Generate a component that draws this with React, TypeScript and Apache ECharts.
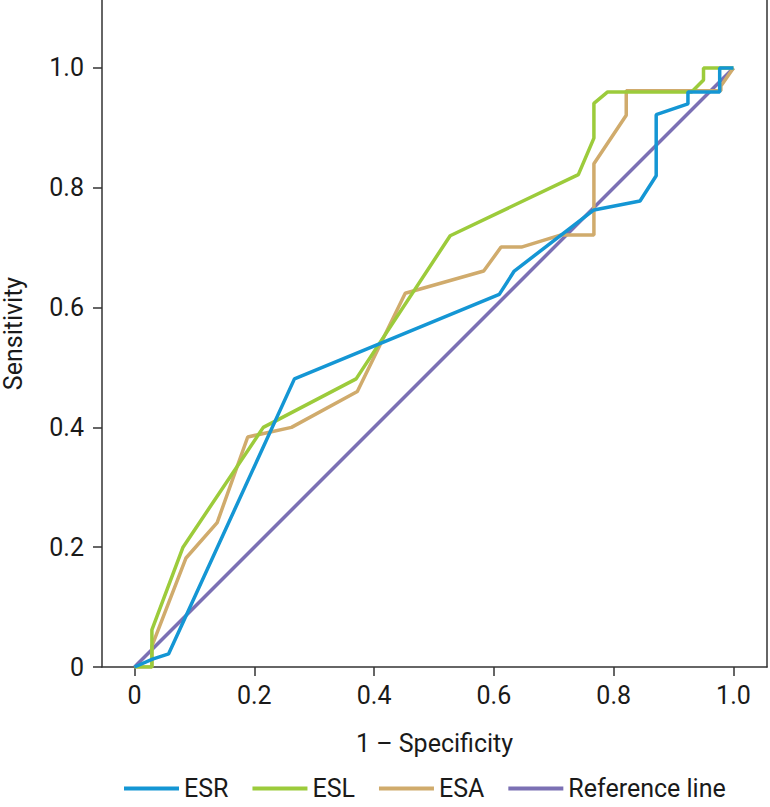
import React, { useEffect, useRef } from "react";
import * as echarts from "echarts";

const tickValues = [0, 0.2, 0.4, 0.6, 0.8, 1.0];
const seriesNames = ["ESR", "ESL", "ESA", "Reference line"];
const seriesColors = ["#1496d4", "#9ccb3b", "#d0ab6c", "#7b70b4"];

const esrX = [0, 0.03, 0.057, 0.267, 0.609, 0.634, 0.767, 0.844, 0.871, 0.871, 0.924, 0.924, 0.977, 0.977, 1];
const esrY = [0, 0.013, 0.022, 0.481, 0.622, 0.661, 0.763, 0.778, 0.82, 0.922, 0.94, 0.96, 0.96, 1, 1];

const eslX = [0, 0.029, 0.029, 0.081, 0.215, 0.37, 0.527, 0.741, 0.767, 0.767, 0.79, 0.93, 0.95, 0.95, 1];
const eslY = [0, 0, 0.062, 0.2, 0.4, 0.481, 0.72, 0.822, 0.883, 0.941, 0.96, 0.96, 0.98, 1, 1];

const esaX = [0, 0.029, 0.029, 0.086, 0.138, 0.189, 0.262, 0.372, 0.452, 0.583, 0.612, 0.646, 0.711, 0.767, 0.767, 0.821, 0.821, 0.979, 0.979, 1];
const esaY = [0, 0, 0.035, 0.182, 0.241, 0.384, 0.4, 0.46, 0.624, 0.661, 0.701, 0.701, 0.721, 0.721, 0.84, 0.921, 0.962, 0.962, 0.97, 1];

const refX = [0, 1];
const refY = [0, 1];

const FONT = "Roboto, sans-serif";
const TEXT = "#1a1a1a";

function zip(xs: number[], ys: number[]) {
  return xs.map((x, i) => [x, ys[i]]);
}

export default function App() {
  const ref = useRef<HTMLDivElement>(null);
  useEffect(() => {
    document.body.style.margin = "0";
    const chart = echarts.init(ref.current!, null, { renderer: "svg" });
    const data = [zip(esrX, esrY), zip(eslX, eslY), zip(esaX, esaY), zip(refX, refY)];
    chart.setOption({
      animation: false,
      grid: { left: 102, right: 3, top: 0, bottom: 140, outerBoundsMode: "none" },
      legend: {
        top: 771,
        left: 119,
        icon: "rect",
        itemWidth: 55,
        itemHeight: 4,
        itemGap: 24,
        data: seriesNames,
        textStyle: { fontFamily: FONT, fontSize: 25, color: TEXT },
      },
      xAxis: {
        type: "value",
        min: -0.0543,
        max: 1.056,
        name: "1 \u2013 Specificity",
        nameLocation: "middle",
        nameGap: 64,
        nameTextStyle: { fontFamily: FONT, fontSize: 25, color: TEXT },
        axisLine: { onZero: false, lineStyle: { color: "#333", width: 1.5 } },
        axisTick: { customValues: tickValues, length: 9, lineStyle: { color: "#333", width: 1.5 } },
        axisLabel: {
          customValues: tickValues,
          margin: 16,
          fontFamily: FONT,
          fontSize: 25,
          color: TEXT,
          formatter: (v: number) => (v === 0 ? "0" : v.toFixed(1)),
        },
        splitLine: { show: false },
      },
      yAxis: [
        {
          type: "value",
          min: 0,
          max: 1.1135,
          name: "Sensitivity",
          nameLocation: "middle",
          nameGap: 76,
          nameTextStyle: { fontFamily: FONT, fontSize: 25, color: TEXT },
          axisLine: { show: true, onZero: false, lineStyle: { color: "#333", width: 1.5 } },
          axisTick: { show: true, customValues: tickValues, length: 9, lineStyle: { color: "#333", width: 1.5 } },
          axisLabel: {
            customValues: tickValues,
            margin: 18,
            fontFamily: FONT,
            fontSize: 25,
            color: TEXT,
            formatter: (v: number) => (v === 0 ? "0" : v.toFixed(1)),
          },
          splitLine: { show: false },
        },
        {
          type: "value",
          min: 0,
          max: 1.1135,
          position: "right",
          axisLine: { show: true, onZero: false, lineStyle: { color: "#333", width: 1.5 } },
          axisTick: { show: false },
          axisLabel: { show: false },
          splitLine: { show: false },
        },
      ],
      series: seriesNames.map((name, i) => ({
        name,
        type: "line",
        data: data[i],
        showSymbol: false,
        symbol: "none",
        color: seriesColors[i],
        lineStyle: { color: seriesColors[i], width: 3.5 },
        z: i === 3 ? 1 : 2 + (2 - i),
      })),
    });
    return () => chart.dispose();
  }, []);
  return <div ref={ref} style={{ width: 770, height: 807 }} />;
}
